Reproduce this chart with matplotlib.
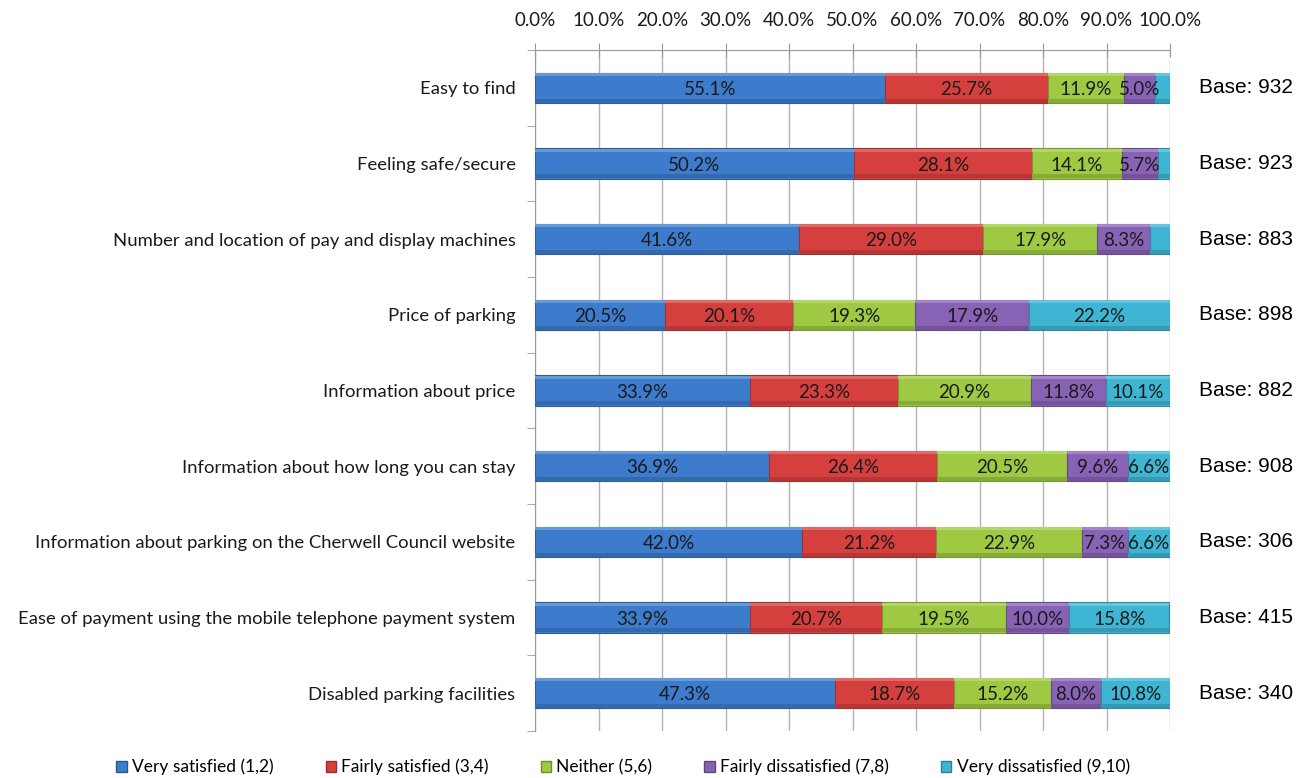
import numpy as np
import matplotlib.pyplot as plt
from matplotlib.patches import Patch
from matplotlib.colors import to_rgb

categories = [
    "Easy to find",
    "Feeling safe/secure",
    "Number and location of pay and display machines",
    "Price of parking",
    "Information about price",
    "Information about how long you can stay",
    "Information about parking on the Cherwell Council website",
    "Ease of payment using the mobile telephone payment system",
    "Disabled parking facilities",
]
very_satisfied = [55.1, 50.2, 41.6, 20.5, 33.9, 36.9, 42.0, 33.9, 47.3]
fairly_satisfied = [25.7, 28.1, 29.0, 20.1, 23.3, 26.4, 21.2, 20.7, 18.7]
neither = [11.9, 14.1, 17.9, 19.3, 20.9, 20.5, 22.9, 19.5, 15.2]
fairly_dissatisfied = [5.0, 5.7, 8.3, 17.9, 11.8, 9.6, 7.3, 10.0, 8.0]
very_dissatisfied = [2.3, 1.9, 3.2, 22.2, 10.1, 6.6, 6.6, 15.8, 10.8]
# the three smallest segments carry no label
hide_label = {(4, 0), (4, 1), (4, 2)}
bases = [932, 923, 883, 898, 882, 908, 306, 415, 340]

series = [very_satisfied, fairly_satisfied, neither, fairly_dissatisfied, very_dissatisfied]
names = ["Very satisfied (1,2)", "Fairly satisfied (3,4)", "Neither (5,6)",
         "Fairly dissatisfied (7,8)", "Very dissatisfied (9,10)"]
colors = ["#3d7ccc", "#d5403e", "#9fc942", "#8862b4", "#3fb5d4"]


def shade(c, f):
    r, g, b = to_rgb(c)
    if f > 0:
        return (r + (1 - r) * f, g + (1 - g) * f, b + (1 - b) * f)
    return (r * (1 + f), g * (1 + f), b * (1 + f))


fig = plt.figure(figsize=(13.12, 7.78), dpi=100)
ax = fig.add_axes([535 / 1312, 1 - 731 / 778, 635 / 1312, 681 / 778])

y = np.arange(len(categories))
h = 0.4
left = np.zeros(len(categories))
for si, (vals, col) in enumerate(zip(series, colors)):
    vals = np.array(vals)
    ax.barh(y, vals, h, left=left, color=col, edgecolor=shade(col, -0.25),
            linewidth=0.8, zorder=3)
    # bevel: light strip on top, dark strip at the bottom
    ax.barh(y - h / 2 + 0.025, vals, 0.04, left=left, color=shade(col, 0.22),
            linewidth=0, zorder=4)
    ax.barh(y + h / 2 - 0.03, vals, 0.05, left=left, color=shade(col, -0.15),
            linewidth=0, zorder=4)
    for i, v in enumerate(vals):
        if (si, i) in hide_label:
            continue
        ax.text(left[i] + v / 2, y[i] + 0.02, f"{v:.1f}%", ha="center", va="center",
                fontsize=13.5, family="Lato", color="#1a1a1a", zorder=5)
    left += vals

ax.set_xlim(0, 100)
ax.set_ylim(len(categories) - 0.5, -0.5)

ax.xaxis.tick_top()
ax.set_xticks(np.arange(0, 101, 10))
ax.set_xticklabels([f"{t:.1f}%" for t in range(0, 101, 10)], family="Lato",
                   fontsize=13.5, color="#1a1a1a")
ax.tick_params(axis="x", direction="inout", length=10, color="#999999", pad=10)
ax.grid(axis="x", color="#b3b3b3", linewidth=1, zorder=0)

ax.set_yticks(np.arange(len(categories) + 1) - 0.5, minor=True)
ax.set_yticks(y)
ax.set_yticklabels(categories, family="Lato", fontsize=13.3, color="#1a1a1a")
ax.tick_params(axis="y", which="major", length=0, pad=14)
ax.tick_params(axis="y", which="minor", length=6, color="#999999")

for s in ["right", "bottom"]:
    ax.spines[s].set_visible(False)
ax.spines["left"].set_color("#999999")
ax.spines["top"].set_color("#999999")

for i, b in enumerate(bases):
    ax.text(1.12, y[i], f"Base: {b}", transform=ax.get_yaxis_transform(),
            ha="center", va="center", fontsize=15, family="Liberation Sans")

handles = [Patch(facecolor=c, edgecolor=shade(c, -0.3)) for c in colors]
fig.legend(handles, names, loc="center", bbox_to_anchor=(623 / 1312, 1 - 767 / 778),
           ncol=5, frameon=False, prop={"family": "Lato", "size": 12.5},
           handlelength=0.6, handleheight=0.6, handletextpad=0.3, columnspacing=3.0)

fig.savefig("out.png", dpi=100)
